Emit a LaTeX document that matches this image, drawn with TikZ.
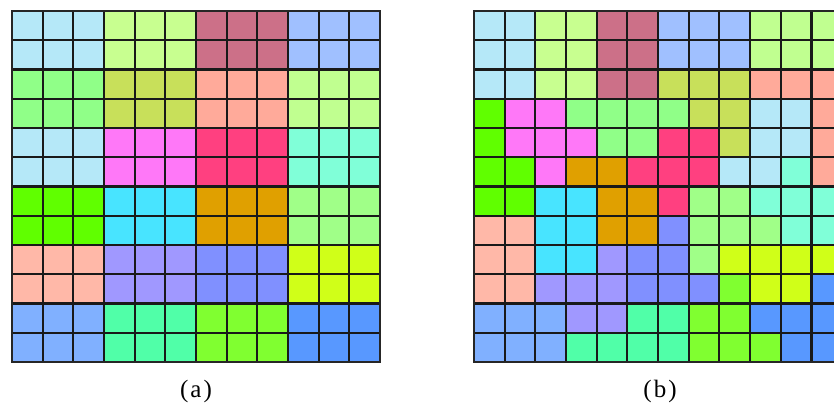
\documentclass[tikz,border=0pt]{standalone}
\usepackage{fontspec}
\setmainfont{Liberation Serif}
\definecolor{cLB}{HTML}{B5E8F8}
\definecolor{cLL}{HTML}{C8FF90}
\definecolor{cMV}{HTML}{CC7088}
\definecolor{cPW}{HTML}{A0C0FF}
\definecolor{cLG}{HTML}{90FF88}
\definecolor{cOL}{HTML}{C8E05A}
\definecolor{cSA}{HTML}{FFAA9A}
\definecolor{cLT}{HTML}{C0FF90}
\definecolor{cMG}{HTML}{FF78F8}
\definecolor{cHP}{HTML}{FF4080}
\definecolor{cAQ}{HTML}{80FFD8}
\definecolor{cBG}{HTML}{60FF00}
\definecolor{cCY}{HTML}{48E4FF}
\definecolor{cOR}{HTML}{E0A000}
\definecolor{cPG}{HTML}{A0FF88}
\definecolor{cPE}{HTML}{FFB8A8}
\definecolor{cLV}{HTML}{A098FF}
\definecolor{cBP}{HTML}{8090FF}
\definecolor{cYL}{HTML}{D0FF18}
\definecolor{cBL}{HTML}{80B0FF}
\definecolor{cSG}{HTML}{50FFA8}
\definecolor{cLM}{HTML}{80FF30}
\definecolor{cMB}{HTML}{5898FF}
\def\cw{30.667}
\def\ch{29.25}
\tikzset{
  gridline/.style={line width=2.3pt, black!90},
  frame/.style={line width=2.8pt, black!85},
  caption/.style={font=\addfontfeature{LetterSpace=8}\fontsize{25}{29}\selectfont, inner sep=0pt, anchor=base}
}
\newcommand\mygrid[2]{%
  \begin{scope}[shift={(#1,11)}]
    \foreach \rowlist [count=\rr from 0] in {#2} {
      \foreach \cc [count=\kk from 0] in \rowlist {
        \fill[c\cc] ({\kk*\cw},{\rr*\ch}) rectangle ({(\kk+1)*\cw},{(\rr+1)*\ch});
      }
    }
    \foreach \ii in {1,...,11} {
      \draw[gridline] ({\ii*\cw},0) -- ({\ii*\cw},{12*\ch});
      \draw[gridline] (0,{\ii*\ch}) -- ({12*\cw},{\ii*\ch});
    }
    \draw[frame] (0,0) rectangle ({12*\cw},{12*\ch});
  \end{scope}}
\begin{document}
\begin{tikzpicture}[x=1pt,y=-1pt]
\useasboundingbox (0,0) rectangle (834,403);
\clip (0,0) rectangle (834,403);
\mygrid{12}{
{LB,LB,LB,LL,LL,LL,MV,MV,MV,PW,PW,PW},
{LB,LB,LB,LL,LL,LL,MV,MV,MV,PW,PW,PW},
{LG,LG,LG,OL,OL,OL,SA,SA,SA,LT,LT,LT},
{LG,LG,LG,OL,OL,OL,SA,SA,SA,LT,LT,LT},
{LB,LB,LB,MG,MG,MG,HP,HP,HP,AQ,AQ,AQ},
{LB,LB,LB,MG,MG,MG,HP,HP,HP,AQ,AQ,AQ},
{BG,BG,BG,CY,CY,CY,OR,OR,OR,PG,PG,PG},
{BG,BG,BG,CY,CY,CY,OR,OR,OR,PG,PG,PG},
{PE,PE,PE,LV,LV,LV,BP,BP,BP,YL,YL,YL},
{PE,PE,PE,LV,LV,LV,BP,BP,BP,YL,YL,YL},
{BL,BL,BL,SG,SG,SG,LM,LM,LM,MB,MB,MB},
{BL,BL,BL,SG,SG,SG,LM,LM,LM,MB,MB,MB}}
\mygrid{474}{
{LB,LB,LL,LL,MV,MV,PW,PW,PW,LT,LT,LT},
{LB,LB,LL,LL,MV,MV,PW,PW,PW,LT,LT,LT},
{LB,LB,LL,LL,MV,MV,OL,OL,OL,SA,SA,SA},
{BG,MG,MG,LG,LG,LG,LG,OL,OL,LB,LB,SA},
{BG,MG,MG,MG,LG,LG,HP,HP,OL,LB,LB,SA},
{BG,BG,MG,OR,OR,HP,HP,HP,LB,LB,AQ,SA},
{BG,BG,CY,CY,OR,OR,HP,PG,PG,AQ,AQ,AQ},
{PE,PE,CY,CY,OR,OR,BP,PG,PG,PG,AQ,AQ},
{PE,PE,CY,CY,LV,BP,BP,PG,YL,YL,YL,YL},
{PE,PE,LV,LV,LV,BP,BP,BP,LM,YL,YL,MB},
{BL,BL,BL,LV,LV,SG,SG,LM,LM,MB,MB,MB},
{BL,BL,BL,SG,SG,SG,SG,LM,LM,LM,MB,MB}}
\node[caption] (capa) at (196,397) {(a)};
\node[caption] (capb) at (660,397) {(b)};
\end{tikzpicture}
\end{document}
